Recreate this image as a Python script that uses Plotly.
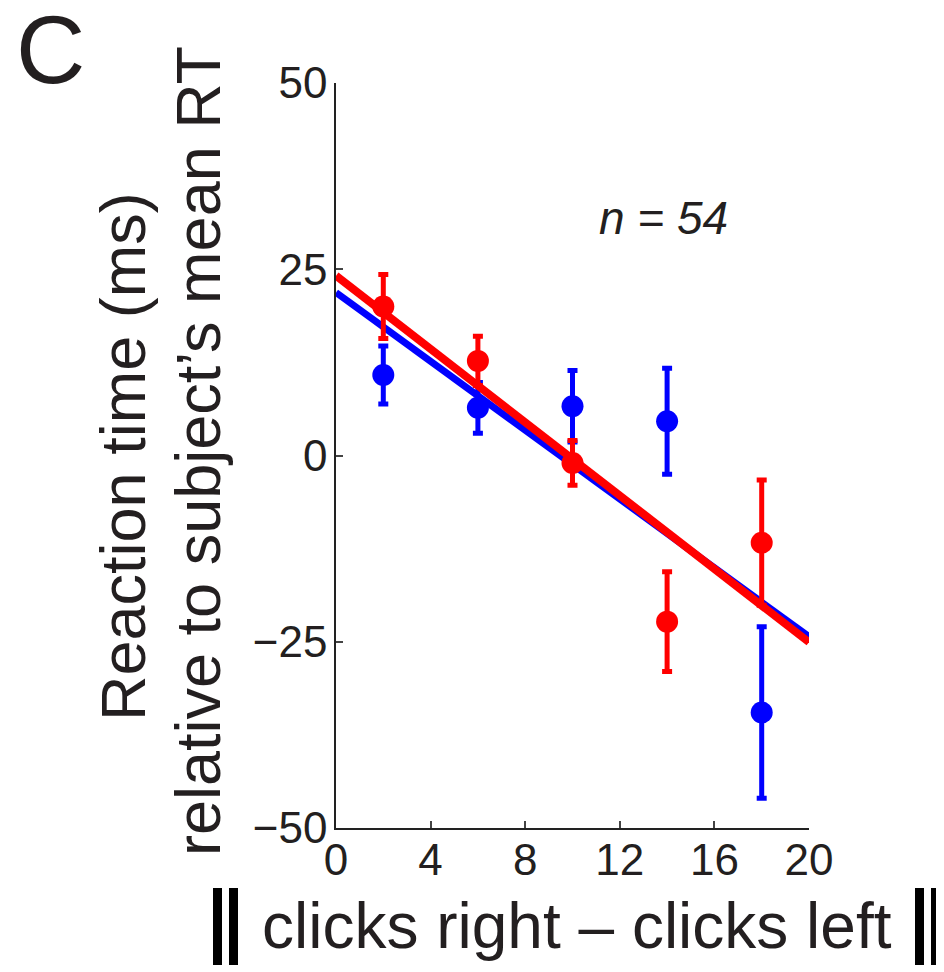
import numpy as np
import plotly.graph_objects as go

# ---- data ----
x_vals = [2, 6, 10, 14, 18]
blue_mean = [10.8, 6.4, 6.6, 4.6, -34.5]
blue_err = [3.9, 3.4, 4.8, 7.1, 11.5]
red_mean = [20.0, 12.7, -1.0, -22.3, -11.7]
red_err = [4.3, 3.3, 3.0, 6.7, 8.4]
fit_x = [0, 20]
x_ticks = [0, 4, 8, 12, 16, 20]
y_ticks = [-50, -25, 0, 25, 50]
n_label = "n = 54"
y_title_1 = "Reaction time (ms)"
y_title_2 = "relative to subject\u2019s mean RT"
x_title = "clicks right \u2013 clicks left"

BLUE = "#0000ff"
RED = "#ff0000"
TXT = "#231f20"
FONT = "Liberation Sans, Arial, Helvetica, sans-serif"

def fit_line(xs, ys):
    slope, icpt = np.polyfit(xs, ys, 1)
    return [icpt + slope * v for v in fit_x]

fig = go.Figure()

fig.add_trace(go.Scatter(x=fit_x, y=fit_line(x_vals, blue_mean), mode="lines",
                         line=dict(color=BLUE, width=7), showlegend=False))
fig.add_trace(go.Scatter(x=x_vals, y=blue_mean, mode="markers",
                         marker=dict(color=BLUE, size=22),
                         error_y=dict(type="data", array=blue_err, color=BLUE,
                                      thickness=5, width=5),
                         showlegend=False))
fig.add_trace(go.Scatter(x=fit_x, y=fit_line(x_vals, red_mean), mode="lines",
                         line=dict(color=RED, width=8), showlegend=False))
fig.add_trace(go.Scatter(x=x_vals, y=red_mean, mode="markers",
                         marker=dict(color=RED, size=22),
                         error_y=dict(type="data", array=red_err, color=RED,
                                      thickness=5, width=5),
                         showlegend=False))

OFF = 8  # page body margin
W, H = 944 - OFF, 972 - OFF
# plot area in page pixels: x 336..809, y 83..828
L, T = 336 - OFF, 83 - OFF
R, B = W - (809 - OFF), H - (828 - OFF)
pw, ph = W - L - R, H - T - B

def px(xp):
    return (xp - OFF - L) / pw

def py(yp):
    return (H - B - (yp - OFF)) / ph

def ann(text, x, y, size, angle=0, italic=False, color=TXT):
    return dict(text=("<i>%s</i>" % text) if italic else text,
                x=px(x), y=py(y), xref="paper", yref="paper", textangle=angle,
                showarrow=False, font=dict(size=size, color=color, family=FONT),
                xanchor="center", yanchor="middle")

annotations = [
    ann("C", 50, 50, 96),
    ann(n_label, 663, 218, 46, italic=True),
    ann(y_title_1, 123, 457, 63, angle=-90),
    ann(y_title_2, 198, 451, 63, angle=-90),
    ann(x_title, 577, 926, 64),
]

# norm delimiters (double bars) around the x title
bar_x = [(213, 222), (229, 238), (915, 924), (931, 940)]
shapes = [dict(type="rect", xref="paper", yref="paper",
               x0=px(a), x1=px(b), y0=py(965), y1=py(888),
               fillcolor="#000000", line=dict(width=0), layer="above")
          for a, b in bar_x]

fig.update_layout(
    width=W, height=H,
    margin=dict(l=L, r=R, t=T, b=B, autoexpand=False),
    paper_bgcolor="white", plot_bgcolor="white",
    font=dict(family=FONT, color=TXT),
    annotations=annotations, shapes=shapes,
)
fig.update_xaxes(range=[0, 20], tickvals=x_ticks, showgrid=False, zeroline=False,
                 showline=True, linecolor="#222", linewidth=1.5, ticks="inside",
                 ticklen=7, tickwidth=1.5, tickcolor="#444", ticklabelstandoff=-8,
                 tickfont=dict(size=44, color=TXT, family=FONT))
fig.update_yaxes(range=[-50, 50], tickvals=y_ticks, showgrid=False, zeroline=False,
                 showline=True, linecolor="#222", linewidth=1.5, ticks="inside",
                 ticklen=7, tickwidth=1.5, tickcolor="#444", ticklabelstandoff=-2,
                 tickfont=dict(size=44, color=TXT, family=FONT))

fig.write_html("out.html")
